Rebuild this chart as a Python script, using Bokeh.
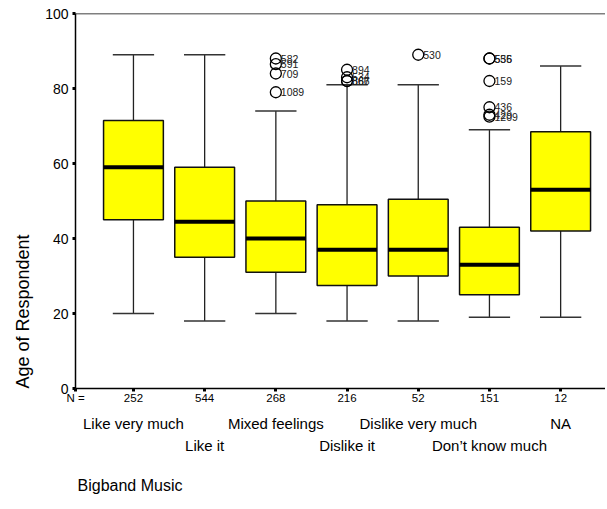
from bokeh.plotting import figure
from bokeh.models import (Range1d, LinearAxis, FixedTicker, Span, Title,
                          ColumnDataSource)
from bokeh.embed import file_html
from bokeh.resources import INLINE
from bokeh.core.properties import value
from bokeh.transform import dodge

# ---- data ----
categories = ["Like very much", "Like it", "Mixed feelings", "Dislike it",
              "Dislike very much", "Don\u2019t know much", "NA"]
n_counts = ["252", "544", "268", "216", "52", "151", "12"]
whisker_low = [20, 18, 20, 18, 18, 19, 19]
q1 = [45, 35, 31, 27.5, 30, 25, 42]
median = [59, 44.5, 40, 37, 37, 33, 53]
q3 = [71.5, 59, 50, 49, 50.5, 43, 68.5]
whisker_high = [89, 89, 74, 81, 81, 69, 86]

outlier_cat = [3, 3, 3, 3, 4, 4, 4, 4, 5, 6, 6, 6, 6, 6, 6]
outlier_age = [88, 86.5, 84, 79, 85, 83, 82, 82, 89, 88, 88, 82, 75, 73, 72.5]
outlier_id = ["582", "591", "709", "1089", "894", "534", "866", "867", "530",
              "535", "556", "159", "436", "429", "1209"]

y_ticks = [0, 20, 40, 60, 80, 100]

# ---- figure ----
FONT = "Liberation Sans"
xs = list(range(1, len(categories) + 1))
X0 = 0.186

p = figure(frame_width=530, frame_height=375, output_backend="svg",
           toolbar_location=None,
           x_range=Range1d(X0, 7.63), y_range=Range1d(0, 100),
           x_axis_location=None, y_axis_location="left",
           min_border_left=75, min_border_right=0, min_border_top=13,
           min_border_bottom=110)
p.outline_line_color = None
p.grid.visible = False
p.background_fill_color = "white"
p.border_fill_color = "white"

src = ColumnDataSource(dict(x=xs, lo=whisker_low, q1=q1, med=median, q3=q3,
                            hi=whisker_high))
hw = 0.42
cw = 0.29
# whiskers
p.segment(x0="x", y0="hi", x1="x", y1="q3", source=src, line_color="#222222",
          line_width=1.3)
p.segment(x0="x", y0="lo", x1="x", y1="q1", source=src, line_color="#222222",
          line_width=1.3)
# caps
p.segment(x0=dodge("x", -cw), y0="hi", x1=dodge("x", cw), y1="hi", source=src,
          line_color="#333333", line_width=1.3)
p.segment(x0=dodge("x", -cw), y0="lo", x1=dodge("x", cw), y1="lo", source=src,
          line_color="#333333", line_width=1.3)
# boxes
p.vbar(x="x", width=2 * hw, bottom="q1", top="q3", source=src,
       fill_color="#FFFF00", line_color="#111111", line_width=1.5)
# medians
p.segment(x0=dodge("x", -hw), y0="med", x1=dodge("x", hw), y1="med",
          source=src, line_color="black", line_width=4)

# outliers
osrc = ColumnDataSource(dict(x=outlier_cat, y=outlier_age, t=outlier_id))
p.scatter(x="x", y="y", source=osrc, marker="circle", size=11,
          fill_color=None, line_color="black", line_width=1.3)
p.text(x="x", y="y", text="t", source=osrc, x_offset=5,
       text_font=value(FONT), text_font_size="10.5px", text_color="#222222",
       text_baseline="middle", text_align="left")

# top line
p.add_layout(Span(location=100, dimension="width", line_color="black",
                  line_width=1.5))

# y axis
ya = p.yaxis[0]
ya.ticker = FixedTicker(ticks=y_ticks)
ya.minor_tick_line_color = None
ya.major_tick_in = 0
ya.major_tick_out = 3
ya.major_tick_line_width = 3
ya.axis_line_width = 1.5
ya.axis_line_color = "black"
ya.major_label_text_font = FONT
ya.major_label_text_font_size = "14px"
ya.major_label_text_color = "black"
ya.major_label_standoff = 4

# y axis title: bottom-aligned like the reference
p.add_layout(Title(text="Age of Respondent", align="left", text_font=FONT,
                   text_font_size="18px", text_font_style="normal",
                   text_color="black", standoff=19, offset=0), "left")

# x axes (N row, two staggered category rows)
n_overrides = {X0: "N ="}
n_overrides.update({i: n for i, n in zip(xs, n_counts)})
ax1 = LinearAxis(ticker=FixedTicker(ticks=[X0] + xs),
                 major_label_overrides=n_overrides)
ax1.minor_tick_line_color = None
ax1.major_tick_in = 0
ax1.major_tick_out = 3
ax1.major_tick_line_width = 3
ax1.axis_line_width = 1.5
ax1.axis_line_color = "black"
ax1.major_label_text_font = FONT
ax1.major_label_text_font_size = "11.5px"
ax1.major_label_text_color = "black"
ax1.major_label_standoff = 0
p.add_layout(ax1, "below")

odd = [1, 3, 5, 7]
even = [2, 4, 6]
ax2 = LinearAxis(ticker=FixedTicker(ticks=odd),
                 major_label_overrides={i: categories[i - 1] for i in odd})
ax3 = LinearAxis(ticker=FixedTicker(ticks=even),
                 major_label_overrides={i: categories[i - 1] for i in even})
for ax, so in ((ax2, 8), (ax3, 2)):
    ax.axis_line_color = None
    ax.major_tick_line_color = None
    ax.minor_tick_line_color = None
    ax.major_tick_out = 0
    ax.major_tick_in = 0
    ax.major_label_text_font = FONT
    ax.major_label_text_font_size = "15px"
    ax.major_label_text_color = "black"
    ax.major_label_standoff = so
    p.add_layout(ax, "below")

p.add_layout(Title(text="Bigband Music", align="left", text_font=FONT,
                   text_font_size="16px", text_font_style="normal",
                   text_color="black", offset=2, standoff=36), "below")

open("out.html", "w").write(file_html(p, INLINE))
